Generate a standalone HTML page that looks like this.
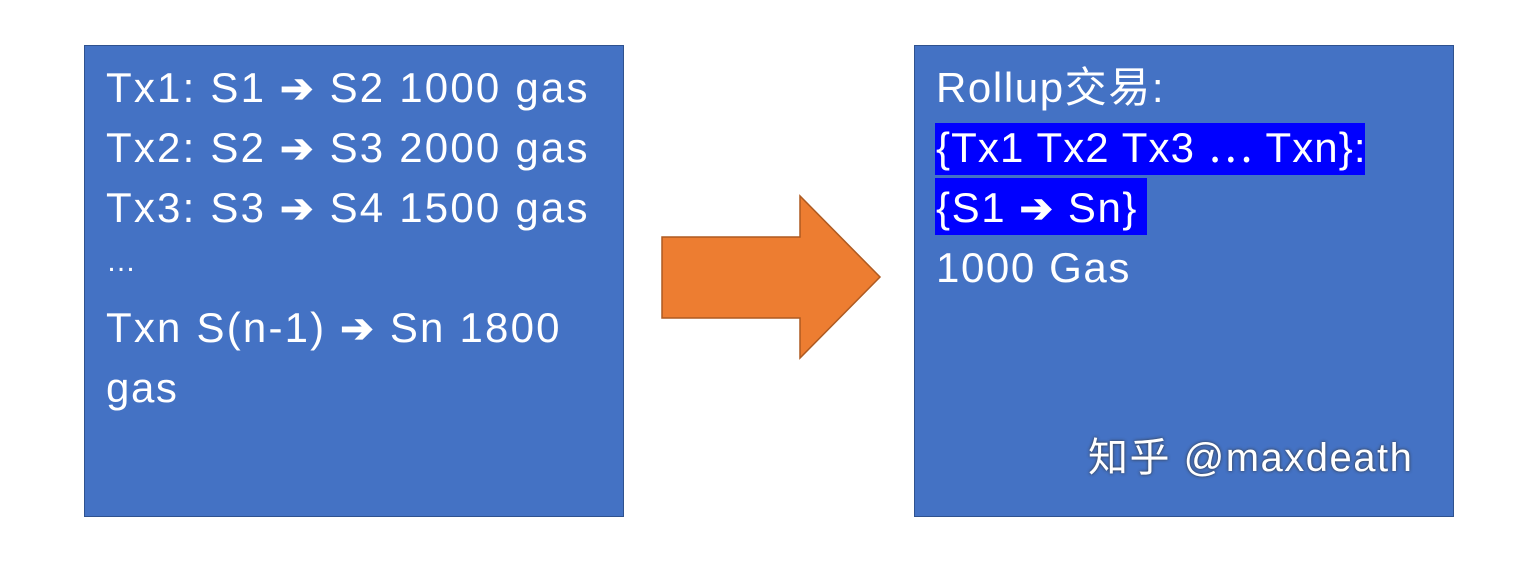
<!DOCTYPE html>
<html><head><meta charset="utf-8"><style>
body{margin:0;width:1526px;height:576px;background:#fff;position:relative;overflow:hidden;font-family:"Liberation Sans","Noto Sans CJK SC",sans-serif;}
.box{position:absolute;top:45px;width:538px;height:470px;background:#4472c4;border:1.5px solid #2f528f;}
.t{position:absolute;color:#fff;font-size:42px;line-height:48px;white-space:nowrap;letter-spacing:1.6px;}
.a{font-weight:bold;font-size:40px;}
.hl{position:absolute;background:#0000ff;}
</style></head><body>
<div class="box" style="left:84px"></div>
<div class="t" style="left:106px;top:64px;letter-spacing:2.2px">Tx1: S1 <span class="a">➔</span> S2 1000 gas</div>
<div class="t" style="left:106px;top:124px;letter-spacing:2.2px">Tx2: S2 <span class="a">➔</span> S3 2000 gas</div>
<div class="t" style="left:106px;top:184px;letter-spacing:2.2px">Tx3: S3 <span class="a">➔</span> S4 1500 gas</div>
<div class="t" style="left:106px;top:238px;font-size:30px">…</div>
<div class="t" style="left:106px;top:304px;letter-spacing:2.2px">Txn S(n-1) <span class="a">➔</span> Sn 1800</div>
<div class="t" style="left:106px;top:364px">gas</div>
<svg style="position:absolute;left:0;top:0" width="1526" height="576"><polygon points="662,237 800,237 800,196 880,277 800,358 800,318 662,318" fill="#ed7d31" stroke="#ae5a21" stroke-width="1.5"/></svg>
<div class="box" style="left:914px"></div>
<div class="hl" style="left:935px;top:123px;width:430px;height:52px"></div>
<div class="hl" style="left:935px;top:178px;width:212px;height:57px"></div>
<div class="t" style="left:936px;top:64px">Rollup交易:</div>
<div class="t" style="left:936px;top:124px;letter-spacing:1.1px">{Tx1 Tx2 Tx3 ⋯ Txn}:</div>
<div class="t" style="left:936px;top:184px">{S1 <span class="a">➔</span> Sn}</div>
<div class="t" style="left:936px;top:244px">1000 Gas</div>
<div class="t" style="left:1088px;top:434px;font-size:40px;letter-spacing:1.5px;text-shadow:0 0 3px #333">知乎 @maxdeath</div>
</body></html>
